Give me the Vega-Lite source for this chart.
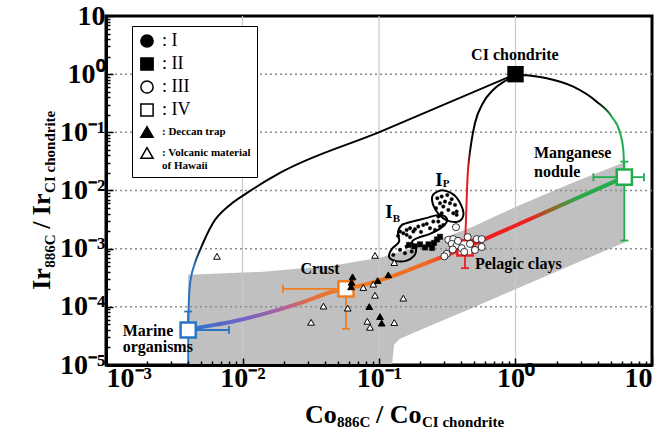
{
 "$schema": "https://vega.github.io/schema/vega-lite/v6.json",
 "width": 546, "height": 349,
 "autosize": {"type": "none"},
 "padding": {"left": 106, "top": 16, "right": 15, "bottom": 72},
 "background": "white",
 "config": {"view": {"stroke": "black", "strokeWidth": 3}, "font": "Liberation Serif"},
 "datasets": {
  "band": [
   {"x": 0.004, "y": 0.000355, "y2": 0.00001},
   {"x": 0.0134, "y": 0.000399, "y2": 0.00001},
   {"x": 0.0438, "y": 0.000506, "y2": 0.00001},
   {"x": 0.1016, "y": 0.000695, "y2": 0.00001},
   {"x": 0.1245, "y": 0.0008, "y2": 0.00001},
   {"x": 0.129, "y": 0.00082, "y2": 0.0000222},
   {"x": 0.1426, "y": 0.00088, "y2": 0.0000282},
   {"x": 0.2366, "y": 0.00126, "y2": 0.0000472},
   {"x": 0.464, "y": 0.00227, "y2": 0.000092},
   {"x": 1.08, "y": 0.00566, "y2": 0.000217},
   {"x": 2.51, "y": 0.013, "y2": 0.000508},
   {"x": 6.34, "y": 0.031, "y2": 0.00129}
  ],
  "gridX": [{"x": 0.01}, {"x": 0.1}, {"x": 1}],
  "gridY": [{"y": 0.0001}, {"y": 0.001}, {"y": 0.01}, {"y": 0.1}, {"y": 1}],
  "curveMarine": [
   {"o": 1, "x": 0.004, "y": 0.00004},
   {"o": 2, "x": 0.00402, "y": 0.000079},
   {"o": 3, "x": 0.00412, "y": 0.000239},
   {"o": 4, "x": 0.00449, "y": 0.00057},
   {"o": 5, "x": 0.00489, "y": 0.00095},
   {"o": 6, "x": 0.00608, "y": 0.00277},
   {"o": 7, "x": 0.00809, "y": 0.00566},
   {"o": 8, "x": 0.0108, "y": 0.0091},
   {"o": 9, "x": 0.0188, "y": 0.02},
   {"o": 10, "x": 0.1016, "y": 0.1016},
   {"o": 11, "x": 1, "y": 1}
  ],
  "curvePelagic": [
   {"o": 1, "x": 0.4266, "y": 0.00103},
   {"o": 2, "x": 0.4337, "y": 0.00313},
   {"o": 3, "x": 0.4411, "y": 0.01023},
   {"o": 4, "x": 0.4487, "y": 0.0226},
   {"o": 5, "x": 0.4563, "y": 0.0336},
   {"o": 6, "x": 0.4776, "y": 0.074},
   {"o": 7, "x": 0.505, "y": 0.145},
   {"o": 8, "x": 0.5779, "y": 0.32},
   {"o": 9, "x": 0.684, "y": 0.535},
   {"o": 10, "x": 0.862, "y": 0.795},
   {"o": 11, "x": 1, "y": 1}
  ],
  "curveMn": [
   {"o": 1, "x": 1, "y": 1},
   {"o": 2, "x": 1.14, "y": 0.969},
   {"o": 3, "x": 1.693, "y": 0.85},
   {"o": 4, "x": 2.651, "y": 0.61},
   {"o": 5, "x": 3.934, "y": 0.337},
   {"o": 6, "x": 5.07, "y": 0.186},
   {"o": 7, "x": 5.83, "y": 0.0977},
   {"o": 8, "x": 6.163, "y": 0.0499},
   {"o": 9, "x": 6.25, "y": 0.0226},
   {"o": 10, "x": 6.27, "y": 0.01694}
  ],
  "mixA": [
   {"o": 1, "x": 0.004, "y": 0.00004},
   {"o": 2, "x": 0.004618, "y": 0.0000431},
   {"o": 3, "x": 0.00852, "y": 0.0000559},
   {"o": 4, "x": 0.01504, "y": 0.0000779},
   {"o": 5, "x": 0.02637, "y": 0.0001158},
   {"o": 6, "x": 0.04627, "y": 0.0001832},
   {"o": 7, "x": 0.0573, "y": 0.000204}
  ],
  "mixB": [
   {"o": 1, "x": 0.0573, "y": 0.000204},
   {"o": 2, "x": 0.0859, "y": 0.0002554},
   {"o": 3, "x": 0.1273, "y": 0.000341},
   {"o": 4, "x": 0.2364, "y": 0.0006},
   {"o": 5, "x": 0.4266, "y": 0.00103}
  ],
  "mixC": [
   {"o": 1, "x": 0.4266, "y": 0.00103},
   {"o": 2, "x": 6.27, "y": 0.01694}
  ],
  "blobs": [
   {"b": "IB", "o": 1, "x": 0.1184, "y": 0.000723},
   {"b": "IB", "o": 2, "x": 0.1245, "y": 0.000992},
   {"b": "IB", "o": 3, "x": 0.1401, "y": 0.001308},
   {"b": "IB", "o": 4, "x": 0.1378, "y": 0.001943},
   {"b": "IB", "o": 5, "x": 0.1475, "y": 0.00256},
   {"b": "IB", "o": 6, "x": 0.1775, "y": 0.002944},
   {"b": "IB", "o": 7, "x": 0.2247, "y": 0.00338},
   {"b": "IB", "o": 8, "x": 0.2616, "y": 0.003735},
   {"b": "IB", "o": 9, "x": 0.2994, "y": 0.00366},
   {"b": "IB", "o": 10, "x": 0.3149, "y": 0.003},
   {"b": "IB", "o": 11, "x": 0.2846, "y": 0.002277},
   {"b": "IB", "o": 12, "x": 0.2364, "y": 0.001796},
   {"b": "IB", "o": 13, "x": 0.1931, "y": 0.001533},
   {"b": "IB", "o": 14, "x": 0.1745, "y": 0.001308},
   {"b": "IB", "o": 15, "x": 0.1867, "y": 0.000992},
   {"b": "IB", "o": 16, "x": 0.1805, "y": 0.000752},
   {"b": "IB", "o": 17, "x": 0.1577, "y": 0.000617},
   {"b": "IB", "o": 18, "x": 0.131, "y": 0.000617},
   {"b": "IP", "o": 1, "x": 0.2486, "y": 0.0084},
   {"b": "IP", "o": 2, "x": 0.2705, "y": 0.00965},
   {"b": "IP", "o": 3, "x": 0.2969, "y": 0.01004},
   {"b": "IP", "o": 4, "x": 0.3312, "y": 0.00928},
   {"b": "IP", "o": 5, "x": 0.3665, "y": 0.00776},
   {"b": "IP", "o": 6, "x": 0.3989, "y": 0.00566},
   {"b": "IP", "o": 7, "x": 0.4159, "y": 0.00412},
   {"b": "IP", "o": 8, "x": 0.4056, "y": 0.00325},
   {"b": "IP", "o": 9, "x": 0.3726, "y": 0.002887},
   {"b": "IP", "o": 10, "x": 0.3312, "y": 0.002944},
   {"b": "IP", "o": 11, "x": 0.2994, "y": 0.00325},
   {"b": "IP", "o": 12, "x": 0.2729, "y": 0.00396},
   {"b": "IP", "o": 13, "x": 0.2529, "y": 0.00523},
   {"b": "IP", "o": 14, "x": 0.2445, "y": 0.0069}
  ],
  "pts": [
   {"type": "I", "x": 0.2674, "y": 0.007375},
   {"type": "I", "x": 0.2879, "y": 0.007855},
   {"type": "I", "x": 0.3165, "y": 0.0084},
   {"type": "I", "x": 0.3409, "y": 0.00709},
   {"type": "I", "x": 0.3603, "y": 0.00566},
   {"type": "I", "x": 0.3707, "y": 0.00434},
   {"type": "I", "x": 0.3502, "y": 0.00407},
   {"type": "I", "x": 0.3219, "y": 0.00464},
   {"type": "I", "x": 0.2959, "y": 0.00529},
   {"type": "I", "x": 0.2798, "y": 0.00605},
   {"type": "I", "x": 0.2879, "y": 0.00407},
   {"type": "I", "x": 0.2719, "y": 0.00356},
   {"type": "I", "x": 0.3044, "y": 0.00645},
   {"type": "I", "x": 0.3312, "y": 0.00605},
   {"type": "I", "x": 0.3707, "y": 0.00381},
   {"type": "I", "x": 0.2616, "y": 0.00496},
   {"type": "I", "x": 0.1425, "y": 0.001966},
   {"type": "I", "x": 0.1507, "y": 0.001846},
   {"type": "I", "x": 0.1595, "y": 0.0021},
   {"type": "I", "x": 0.1688, "y": 0.00225},
   {"type": "I", "x": 0.1784, "y": 0.001966},
   {"type": "I", "x": 0.194, "y": 0.0024},
   {"type": "I", "x": 0.2111, "y": 0.00256},
   {"type": "I", "x": 0.2364, "y": 0.00225},
   {"type": "I", "x": 0.2499, "y": 0.00292},
   {"type": "I", "x": 0.2719, "y": 0.00292},
   {"type": "I", "x": 0.2959, "y": 0.00256},
   {"type": "I", "x": 0.1595, "y": 0.001727},
   {"type": "I", "x": 0.1688, "y": 0.001576},
   {"type": "I", "x": 0.1836, "y": 0.00216},
   {"type": "I", "x": 0.2236, "y": 0.00267},
   {"type": "I", "x": 0.1425, "y": 0.000954},
   {"type": "I", "x": 0.155, "y": 0.000837},
   {"type": "I", "x": 0.1737, "y": 0.000892},
   {"type": "I", "x": 0.1273, "y": 0.000782},
   {"type": "I", "x": 0.1595, "y": 0.001087},
   {"type": "I", "x": 0.2572, "y": 0.0021},
   {"type": "I", "x": 0.2798, "y": 0.0024},
   {"type": "I", "x": 0.2031, "y": 0.001943},
   {"type": "I", "x": 0.1378, "y": 0.00166},
   {"type": "II", "x": 0.1659, "y": 0.00116},
   {"type": "II", "x": 0.182, "y": 0.001095},
   {"type": "II", "x": 0.1997, "y": 0.001186},
   {"type": "II", "x": 0.2173, "y": 0.00105},
   {"type": "II", "x": 0.2305, "y": 0.001186},
   {"type": "II", "x": 0.2445, "y": 0.00103},
   {"type": "II", "x": 0.2529, "y": 0.00126},
   {"type": "II", "x": 0.266, "y": 0.001445},
   {"type": "II", "x": 0.28, "y": 0.0016},
   {"type": "III", "x": 0.3665, "y": 0.00234},
   {"type": "III", "x": 0.322, "y": 0.00142},
   {"type": "III", "x": 0.35, "y": 0.00146},
   {"type": "III", "x": 0.341, "y": 0.00121},
   {"type": "III", "x": 0.371, "y": 0.00114},
   {"type": "III", "x": 0.4035, "y": 0.00102},
   {"type": "III", "x": 0.4215, "y": 0.00088},
   {"type": "III", "x": 0.4464, "y": 0.00158},
   {"type": "III", "x": 0.5196, "y": 0.00146},
   {"type": "III", "x": 0.5653, "y": 0.00146},
   {"type": "III", "x": 0.5653, "y": 0.00107},
   {"type": "III", "x": 0.505, "y": 0.00095},
   {"type": "III", "x": 0.3133, "y": 0.000815},
   {"type": "III", "x": 0.301, "y": 0.000738},
   {"type": "III", "x": 0.3467, "y": 0.00097},
   {"type": "III", "x": 0.464, "y": 0.00121},
   {"type": "III", "x": 0.379, "y": 0.00136},
   {"type": "Deccan trap", "x": 0.064, "y": 0.000328},
   {"type": "Deccan trap", "x": 0.0629, "y": 0.000264},
   {"type": "Deccan trap", "x": 0.0624, "y": 0.000221},
   {"type": "Deccan trap", "x": 0.0978, "y": 0.000283},
   {"type": "Deccan trap", "x": 0.117, "y": 0.000355},
   {"type": "Deccan trap", "x": 0.0849, "y": 0.000101},
   {"type": "Deccan trap", "x": 0.1017, "y": 0.000068},
   {"type": "Deccan trap", "x": 0.1046, "y": 0.0000525},
   {"type": "Hawaii", "x": 0.0065, "y": 0.000738},
   {"type": "Hawaii", "x": 0.0935, "y": 0.000767},
   {"type": "Hawaii", "x": 0.1294, "y": 0.000577},
   {"type": "Hawaii", "x": 0.0767, "y": 0.000215},
   {"type": "Hawaii", "x": 0.0908, "y": 0.000245},
   {"type": "Hawaii", "x": 0.0935, "y": 0.000158},
   {"type": "Hawaii", "x": 0.1507, "y": 0.000141},
   {"type": "Hawaii", "x": 0.0392, "y": 0.000103},
   {"type": "Hawaii", "x": 0.059, "y": 0.000095},
   {"type": "Hawaii", "x": 0.0318, "y": 0.0000542},
   {"type": "Hawaii", "x": 0.0821, "y": 0.0000564},
   {"type": "Hawaii", "x": 0.0859, "y": 0.0000445},
   {"type": "Hawaii", "x": 0.1294, "y": 0.0000537}
  ],
  "errs": [
   {"member": "Marine", "x": 0.004, "x2": 0.00796, "y": 0.00004, "y2": 0.00004},
   {"member": "Marine", "x": 0.004, "x2": 0.004, "y": 0.000083, "y2": 0.00001},
   {"member": "Crust", "x": 0.0198, "x2": 0.0573, "y": 0.000204, "y2": 0.000204},
   {"member": "Crust", "x": 0.0573, "x2": 0.0573, "y": 0.000204, "y2": 0.0000419},
   {"member": "Pelagic", "x": 0.4266, "x2": 0.4266, "y": 0.00103, "y2": 0.000462},
   {"member": "Mn", "x": 3.72, "x2": 8.73, "y": 0.01694, "y2": 0.01694},
   {"member": "Mn", "x": 6.27, "x2": 6.27, "y": 0.0314, "y2": 0.00138}
  ],
  "capsV": [
   {"member": "Marine", "x": 0.00796, "y": 0.00004},
   {"member": "Crust", "x": 0.0198, "y": 0.000204},
   {"member": "Mn", "x": 3.72, "y": 0.01694},
   {"member": "Mn", "x": 8.73, "y": 0.01694}
  ],
  "capsH": [
   {"member": "Marine", "x": 0.004, "y": 0.000083},
   {"member": "Crust", "x": 0.0573, "y": 0.0000419},
   {"member": "Pelagic", "x": 0.4266, "y": 0.000462},
   {"member": "Mn", "x": 6.27, "y": 0.0314},
   {"member": "Mn", "x": 6.27, "y": 0.00138}
  ],
  "ends": [
   {"member": "Marine", "x": 0.004, "y": 0.00004},
   {"member": "Crust", "x": 0.0573, "y": 0.000204},
   {"member": "Pelagic", "x": 0.4266, "y": 0.00103},
   {"member": "Mn", "x": 6.27, "y": 0.01694}
  ],
  "ci": [{"x": 1, "y": 1}],
  "labelsLeft": [
   {"t": "Pelagic clays", "x": 0.505, "y": 0.000548},
   {"t": "Manganese", "x": 1.366, "y": 0.0443},
   {"t": "nodule", "x": 1.366, "y": 0.0209},
   {"t": "Marine", "x": 0.001325, "y": 0.0000387},
   {"t": "organisms", "x": 0.001325, "y": 0.00002}
  ],
  "labelsCenter": [
   {"t": "Crust", "x": 0.03697, "y": 0.000445},
   {"t": "CI chondrite", "x": 0.99, "y": 2.14}
  ],
  "labelsI": [
   {"t": "I", "x": 0.1184, "y": 0.00429},
   {"t": "I", "x": 0.2752, "y": 0.01491}
  ],
  "labelsSub": [
   {"t": "B", "x": 0.1343, "y": 0.00319},
   {"t": "P", "x": 0.3097, "y": 0.01298}
  ],
  "one": [{}]
 },
 "layer": [
  {
   "data": {"name": "band"},
   "mark": {"type": "area", "color": "#c0c0c0", "opacity": 1},
   "encoding": {
    "x": {"field": "x", "type": "quantitative", "scale": {"type": "log", "domain": [0.001, 10], "nice": false}, "title": null,
     "axis": {
      "values": [0.001,0.002,0.003,0.004,0.005,0.006,0.007,0.008,0.009,0.01,0.02,0.03,0.04,0.05,0.06,0.07,0.08,0.09,0.1,0.2,0.3,0.4,0.5,0.6,0.7,0.8,0.9,1,2,3,4,5,6,7,8,9,10],
      "labelExpr": "datum.value < 0.0015 ? '10⁻³' : abs(datum.value-0.01) < 1e-9 ? '10⁻²' : abs(datum.value-0.1) < 1e-9 ? '10⁻¹' : datum.value == 1 ? '10⁰' : datum.value == 10 ? '10' : ''",
      "labelFlush": true, "labelOverlap": false,
      "labelFont": "Liberation Serif", "labelFontSize": 28, "labelFontWeight": "bold", "labelColor": "black",
      "labelPadding": 6, "labelBaseline": "top",
      "tickSize": {"condition": {"test": "abs(log(datum.value)/LN10 - round(log(datum.value)/LN10)) < 0.001", "value": -7}, "value": -4},
      "tickColor": "black", "tickWidth": 1.5,
      "domainColor": "black", "domainWidth": 3, "grid": false, "zindex": 1, "title": null
     }},
    "y": {"field": "y", "type": "quantitative", "scale": {"type": "log", "domain": [0.00001, 10], "nice": false}, "title": null,
     "axis": {
      "values": [0.00001,0.00002,0.00003,0.00004,0.00005,0.00006,0.00007,0.00008,0.00009,0.0001,0.0002,0.0003,0.0004,0.0005,0.0006,0.0007,0.0008,0.0009,0.001,0.002,0.003,0.004,0.005,0.006,0.007,0.008,0.009,0.01,0.02,0.03,0.04,0.05,0.06,0.07,0.08,0.09,0.1,0.2,0.3,0.4,0.5,0.6,0.7,0.8,0.9,1,2,3,4,5,6,7,8,9,10],
      "labelExpr": "datum.value > 9.5 ? '10' : (datum.value > 0.95 && datum.value < 1.05) ? '10⁰' : abs(datum.value-0.1) < 1e-9 ? '10⁻¹' : abs(datum.value-0.01) < 1e-10 ? '10⁻²' : abs(datum.value-0.001) < 1e-11 ? '10⁻³' : abs(datum.value-0.0001) < 1e-12 ? '10⁻⁴' : abs(datum.value-0.00001) < 1e-13 ? '10⁻⁵' : ''",
      "labelOverlap": false,
      "labelFont": "Liberation Serif", "labelFontSize": 28, "labelFontWeight": "bold", "labelColor": "black",
      "labelPadding": 8,
      "tickSize": {"condition": {"test": "abs(log(datum.value)/LN10 - round(log(datum.value)/LN10)) < 0.001", "value": -7}, "value": -4},
      "tickColor": "black", "tickWidth": 1.5,
      "domainColor": "black", "domainWidth": 3, "grid": false, "zindex": 1, "title": null
     }},
    "y2": {"field": "y2"}
   }
  },
  {
   "data": {"name": "gridY"},
   "mark": {"type": "rule", "color": "#8c8c8c", "strokeWidth": 1.5, "strokeDash": [2, 3]},
   "encoding": {"y": {"field": "y", "type": "quantitative", "scale": {"type": "log", "domain": [0.00001, 10], "nice": false}, "title": null}}
  },
  {
   "data": {"name": "gridX"},
   "mark": {"type": "rule", "color": "#c8c8c8", "strokeWidth": 1.2},
   "encoding": {"x": {"field": "x", "type": "quantitative", "scale": {"type": "log", "domain": [0.001, 10], "nice": false}, "title": null}}
  },
  {
   "data": {"name": "curveMarine"},
   "mark": {"type": "line", "interpolate": "monotone", "strokeWidth": 2, "stroke": {"gradient": "linear", "x1": 0, "y1": 0, "x2": 0, "y2": 1, "stops": [{"offset": 0, "color": "black"}, {"offset": 0.66, "color": "black"}, {"offset": 0.75, "color": "#2a74c4"}, {"offset": 1, "color": "#2a74c4"}]}},
   "encoding": {
    "x": {"field": "x", "type": "quantitative", "scale": {"type": "log", "domain": [0.001, 10], "nice": false}, "title": null},
    "y": {"field": "y", "type": "quantitative", "scale": {"type": "log", "domain": [0.00001, 10], "nice": false}, "title": null},
    "order": {"field": "o", "type": "quantitative"}
   }
  },
  {
   "data": {"name": "curvePelagic"},
   "mark": {"type": "line", "interpolate": "monotone", "strokeWidth": 2, "stroke": {"gradient": "linear", "x1": 0, "y1": 0, "x2": 0, "y2": 1, "stops": [{"offset": 0, "color": "black"}, {"offset": 0.42, "color": "black"}, {"offset": 0.54, "color": "#e01b1b"}, {"offset": 1, "color": "#ee1d23"}]}},
   "encoding": {
    "x": {"field": "x", "type": "quantitative", "scale": {"type": "log", "domain": [0.001, 10], "nice": false}, "title": null},
    "y": {"field": "y", "type": "quantitative", "scale": {"type": "log", "domain": [0.00001, 10], "nice": false}, "title": null},
    "order": {"field": "o", "type": "quantitative"}
   }
  },
  {
   "data": {"name": "curveMn"},
   "mark": {"type": "line", "interpolate": "monotone", "strokeWidth": 2, "stroke": {"gradient": "linear", "x1": 0, "y1": 0, "x2": 0, "y2": 1, "stops": [{"offset": 0, "color": "black"}, {"offset": 0.28, "color": "black"}, {"offset": 0.42, "color": "#1fae4b"}, {"offset": 1, "color": "#1fae4b"}]}},
   "encoding": {
    "x": {"field": "x", "type": "quantitative", "scale": {"type": "log", "domain": [0.001, 10], "nice": false}, "title": null},
    "y": {"field": "y", "type": "quantitative", "scale": {"type": "log", "domain": [0.00001, 10], "nice": false}, "title": null},
    "order": {"field": "o", "type": "quantitative"}
   }
  },
  {
   "data": {"name": "mixA"},
   "mark": {"type": "line", "interpolate": "monotone", "strokeWidth": 4, "stroke": {"gradient": "linear", "x1": 0, "y1": 0, "x2": 1, "y2": 0, "stops": [{"offset": 0, "color": "#2a74c4"}, {"offset": 0.35, "color": "#6f63c8"}, {"offset": 0.6, "color": "#b0609a"}, {"offset": 0.8, "color": "#e8703a"}, {"offset": 1, "color": "#ef7d22"}]}},
   "encoding": {
    "x": {"field": "x", "type": "quantitative", "scale": {"type": "log", "domain": [0.001, 10], "nice": false}, "title": null},
    "y": {"field": "y", "type": "quantitative", "scale": {"type": "log", "domain": [0.00001, 10], "nice": false}, "title": null},
    "order": {"field": "o", "type": "quantitative"}
   }
  },
  {
   "data": {"name": "mixB"},
   "mark": {"type": "line", "interpolate": "monotone", "strokeWidth": 4, "stroke": {"gradient": "linear", "x1": 0, "y1": 0, "x2": 1, "y2": 0, "stops": [{"offset": 0, "color": "#ef7d22"}, {"offset": 0.65, "color": "#ef6a22"}, {"offset": 1, "color": "#ee1d23"}]}},
   "encoding": {
    "x": {"field": "x", "type": "quantitative", "scale": {"type": "log", "domain": [0.001, 10], "nice": false}, "title": null},
    "y": {"field": "y", "type": "quantitative", "scale": {"type": "log", "domain": [0.00001, 10], "nice": false}, "title": null},
    "order": {"field": "o", "type": "quantitative"}
   }
  },
  {
   "data": {"name": "mixC"},
   "mark": {"type": "line", "strokeWidth": 4, "stroke": {"gradient": "linear", "x1": 0, "y1": 0, "x2": 1, "y2": 0, "stops": [{"offset": 0, "color": "#ee1d23"}, {"offset": 0.4, "color": "#ee2020"}, {"offset": 0.55, "color": "#8a6a2a"}, {"offset": 0.7, "color": "#2aa84a"}, {"offset": 1, "color": "#1fae4b"}]}},
   "encoding": {
    "x": {"field": "x", "type": "quantitative", "scale": {"type": "log", "domain": [0.001, 10], "nice": false}, "title": null},
    "y": {"field": "y", "type": "quantitative", "scale": {"type": "log", "domain": [0.00001, 10], "nice": false}, "title": null},
    "order": {"field": "o", "type": "quantitative"}
   }
  },
  {
   "data": {"name": "blobs"},
   "mark": {"type": "line", "interpolate": "cardinal-closed", "stroke": "black", "strokeWidth": 2},
   "encoding": {
    "x": {"field": "x", "type": "quantitative", "scale": {"type": "log", "domain": [0.001, 10], "nice": false}, "title": null},
    "y": {"field": "y", "type": "quantitative", "scale": {"type": "log", "domain": [0.00001, 10], "nice": false}, "title": null},
    "order": {"field": "o", "type": "quantitative"},
    "detail": {"field": "b", "type": "nominal"}
   }
  },
  {
   "data": {"name": "errs"},
   "mark": {"type": "rule", "strokeWidth": 1.8},
   "encoding": {
    "x": {"field": "x", "type": "quantitative", "scale": {"type": "log", "domain": [0.001, 10], "nice": false}, "title": null},
    "x2": {"field": "x2"},
    "y": {"field": "y", "type": "quantitative", "scale": {"type": "log", "domain": [0.00001, 10], "nice": false}, "title": null},
    "y2": {"field": "y2"},
    "color": {"field": "member", "type": "nominal", "scale": {"domain": ["Marine", "Crust", "Pelagic", "Mn"], "range": ["#2a74c4", "#ef7d22", "#ee1d23", "#1fae4b"]}, "legend": null}
   }
  },
  {
   "data": {"name": "capsV"},
   "mark": {"type": "tick", "orient": "vertical", "size": 8, "thickness": 1.8, "opacity": 1},
   "encoding": {
    "x": {"field": "x", "type": "quantitative", "scale": {"type": "log", "domain": [0.001, 10], "nice": false}, "title": null},
    "y": {"field": "y", "type": "quantitative", "scale": {"type": "log", "domain": [0.00001, 10], "nice": false}, "title": null},
    "color": {"field": "member", "type": "nominal", "scale": {"domain": ["Marine", "Crust", "Pelagic", "Mn"], "range": ["#2a74c4", "#ef7d22", "#ee1d23", "#1fae4b"]}, "legend": null}
   }
  },
  {
   "data": {"name": "capsH"},
   "mark": {"type": "tick", "orient": "horizontal", "size": 8, "thickness": 1.8, "opacity": 1},
   "encoding": {
    "x": {"field": "x", "type": "quantitative", "scale": {"type": "log", "domain": [0.001, 10], "nice": false}, "title": null},
    "y": {"field": "y", "type": "quantitative", "scale": {"type": "log", "domain": [0.00001, 10], "nice": false}, "title": null},
    "color": {"field": "member", "type": "nominal", "scale": {"domain": ["Marine", "Crust", "Pelagic", "Mn"], "range": ["#2a74c4", "#ef7d22", "#ee1d23", "#1fae4b"]}, "legend": null}
   }
  },
  {
   "data": {"name": "ends"},
   "mark": {"type": "point", "shape": "square", "size": 230, "filled": false, "fill": "white", "strokeWidth": 2.5, "opacity": 1},
   "encoding": {
    "x": {"field": "x", "type": "quantitative", "scale": {"type": "log", "domain": [0.001, 10], "nice": false}, "title": null},
    "y": {"field": "y", "type": "quantitative", "scale": {"type": "log", "domain": [0.00001, 10], "nice": false}, "title": null},
    "color": {"field": "member", "type": "nominal", "scale": {"domain": ["Marine", "Crust", "Pelagic", "Mn"], "range": ["#2a74c4", "#ef7d22", "#ee1d23", "#1fae4b"]}, "legend": null}
   }
  },
  {
   "data": {"name": "ci"},
   "mark": {"type": "point", "shape": "square", "size": 270, "filled": true, "color": "black", "strokeWidth": 1, "opacity": 1},
   "encoding": {
    "x": {"field": "x", "type": "quantitative", "scale": {"type": "log", "domain": [0.001, 10], "nice": false}, "title": null},
    "y": {"field": "y", "type": "quantitative", "scale": {"type": "log", "domain": [0.00001, 10], "nice": false}, "title": null}
   }
  },
  {
   "data": {"name": "pts"},
   "transform": [{"filter": "datum.type == 'Hawaii'"}],
   "mark": {"type": "point", "filled": false, "size": 45, "strokeWidth": 1, "opacity": 1},
   "encoding": {
    "x": {"field": "x", "type": "quantitative", "scale": {"type": "log", "domain": [0.001, 10], "nice": false}, "title": null},
    "y": {"field": "y", "type": "quantitative", "scale": {"type": "log", "domain": [0.00001, 10], "nice": false}, "title": null},
    "shape": {"field": "type", "type": "nominal", "scale": {"domain": ["I", "II", "III", "IV", "Deccan trap", "Hawaii"], "range": ["circle", "square", "circle", "square", "triangle-up", "triangle-up"]},
     "legend": {"orient": "none", "legendX": 26, "legendY": 10, "title": null, "fillColor": "white", "strokeColor": "black", "padding": 6,
      "symbolSize": 150, "symbolStrokeWidth": 1.5, "rowPadding": 3, "labelOffset": 6,
      "labelFont": "Liberation Serif", "labelColor": "black", "labelLimit": 200,
      "labelFontSize": {"expr": "datum.value == 'Deccan trap' || datum.value == 'Hawaii' ? 11 : 18"},
      "labelFontWeight": {"expr": "datum.value == 'Deccan trap' || datum.value == 'Hawaii' ? 'bold' : 'normal'"},
      "labelExpr": "datum.label == 'Hawaii' ? [': Volcanic material', '   of Hawaii'] : ': ' + datum.label"}},
    "fill": {"field": "type", "type": "nominal", "scale": {"domain": ["I", "II", "III", "IV", "Deccan trap", "Hawaii"], "range": ["black", "black", "white", "white", "black", "white"]}},
    "stroke": {"field": "type", "type": "nominal", "scale": {"domain": ["I", "II", "III", "IV", "Deccan trap", "Hawaii"], "range": ["black", "black", "black", "black", "black", "black"]}}
   }
  },
  {
   "data": {"name": "pts"},
   "transform": [{"filter": "datum.type == 'Deccan trap'"}],
   "mark": {"type": "point", "filled": false, "size": 45, "strokeWidth": 1, "opacity": 1},
   "encoding": {
    "x": {"field": "x", "type": "quantitative", "scale": {"type": "log", "domain": [0.001, 10], "nice": false}, "title": null},
    "y": {"field": "y", "type": "quantitative", "scale": {"type": "log", "domain": [0.00001, 10], "nice": false}, "title": null},
    "shape": {"field": "type", "type": "nominal", "scale": {"domain": ["I", "II", "III", "IV", "Deccan trap", "Hawaii"], "range": ["circle", "square", "circle", "square", "triangle-up", "triangle-up"]}},
    "fill": {"field": "type", "type": "nominal", "scale": {"domain": ["I", "II", "III", "IV", "Deccan trap", "Hawaii"], "range": ["black", "black", "white", "white", "black", "white"]}},
    "stroke": {"field": "type", "type": "nominal", "scale": {"domain": ["I", "II", "III", "IV", "Deccan trap", "Hawaii"], "range": ["black", "black", "black", "black", "black", "black"]}}
   }
  },
  {
   "data": {"name": "pts"},
   "transform": [{"filter": "datum.type == 'I'"}],
   "mark": {"type": "point", "filled": false, "size": 12, "strokeWidth": 0.5, "opacity": 1},
   "encoding": {
    "x": {"field": "x", "type": "quantitative", "scale": {"type": "log", "domain": [0.001, 10], "nice": false}, "title": null},
    "y": {"field": "y", "type": "quantitative", "scale": {"type": "log", "domain": [0.00001, 10], "nice": false}, "title": null},
    "shape": {"field": "type", "type": "nominal", "scale": {"domain": ["I", "II", "III", "IV", "Deccan trap", "Hawaii"], "range": ["circle", "square", "circle", "square", "triangle-up", "triangle-up"]}},
    "fill": {"field": "type", "type": "nominal", "scale": {"domain": ["I", "II", "III", "IV", "Deccan trap", "Hawaii"], "range": ["black", "black", "white", "white", "black", "white"]}},
    "stroke": {"field": "type", "type": "nominal", "scale": {"domain": ["I", "II", "III", "IV", "Deccan trap", "Hawaii"], "range": ["black", "black", "black", "black", "black", "black"]}}
   }
  },
  {
   "data": {"name": "pts"},
   "transform": [{"filter": "datum.type == 'II'"}],
   "mark": {"type": "point", "filled": false, "size": 28, "strokeWidth": 0.5, "opacity": 1},
   "encoding": {
    "x": {"field": "x", "type": "quantitative", "scale": {"type": "log", "domain": [0.001, 10], "nice": false}, "title": null},
    "y": {"field": "y", "type": "quantitative", "scale": {"type": "log", "domain": [0.00001, 10], "nice": false}, "title": null},
    "shape": {"field": "type", "type": "nominal", "scale": {"domain": ["I", "II", "III", "IV", "Deccan trap", "Hawaii"], "range": ["circle", "square", "circle", "square", "triangle-up", "triangle-up"]}},
    "fill": {"field": "type", "type": "nominal", "scale": {"domain": ["I", "II", "III", "IV", "Deccan trap", "Hawaii"], "range": ["black", "black", "white", "white", "black", "white"]}},
    "stroke": {"field": "type", "type": "nominal", "scale": {"domain": ["I", "II", "III", "IV", "Deccan trap", "Hawaii"], "range": ["black", "black", "black", "black", "black", "black"]}}
   }
  },
  {
   "data": {"name": "pts"},
   "transform": [{"filter": "datum.type == 'III'"}],
   "mark": {"type": "point", "filled": false, "size": 50, "strokeWidth": 0.8, "opacity": 1},
   "encoding": {
    "x": {"field": "x", "type": "quantitative", "scale": {"type": "log", "domain": [0.001, 10], "nice": false}, "title": null},
    "y": {"field": "y", "type": "quantitative", "scale": {"type": "log", "domain": [0.00001, 10], "nice": false}, "title": null},
    "shape": {"field": "type", "type": "nominal", "scale": {"domain": ["I", "II", "III", "IV", "Deccan trap", "Hawaii"], "range": ["circle", "square", "circle", "square", "triangle-up", "triangle-up"]}},
    "fill": {"field": "type", "type": "nominal", "scale": {"domain": ["I", "II", "III", "IV", "Deccan trap", "Hawaii"], "range": ["black", "black", "white", "white", "black", "white"]}},
    "stroke": {"field": "type", "type": "nominal", "scale": {"domain": ["I", "II", "III", "IV", "Deccan trap", "Hawaii"], "range": ["black", "black", "black", "black", "black", "black"]}}
   }
  },
  {
   "data": {"name": "labelsLeft"},
   "mark": {"type": "text", "align": "left", "baseline": "middle", "font": "Liberation Serif", "fontWeight": "bold", "fontSize": 16, "color": "black"},
   "encoding": {
    "x": {"field": "x", "type": "quantitative", "scale": {"type": "log", "domain": [0.001, 10], "nice": false}, "title": null},
    "y": {"field": "y", "type": "quantitative", "scale": {"type": "log", "domain": [0.00001, 10], "nice": false}, "title": null},
    "text": {"field": "t"}
   }
  },
  {
   "data": {"name": "labelsCenter"},
   "mark": {"type": "text", "align": "center", "baseline": "middle", "font": "Liberation Serif", "fontWeight": "bold", "fontSize": 16, "color": "black"},
   "encoding": {
    "x": {"field": "x", "type": "quantitative", "scale": {"type": "log", "domain": [0.001, 10], "nice": false}, "title": null},
    "y": {"field": "y", "type": "quantitative", "scale": {"type": "log", "domain": [0.00001, 10], "nice": false}, "title": null},
    "text": {"field": "t"}
   }
  },
  {
   "data": {"name": "labelsI"},
   "mark": {"type": "text", "align": "center", "baseline": "middle", "font": "Liberation Serif", "fontWeight": "bold", "fontSize": 19, "color": "black"},
   "encoding": {
    "x": {"field": "x", "type": "quantitative", "scale": {"type": "log", "domain": [0.001, 10], "nice": false}, "title": null},
    "y": {"field": "y", "type": "quantitative", "scale": {"type": "log", "domain": [0.00001, 10], "nice": false}, "title": null},
    "text": {"field": "t"}
   }
  },
  {
   "data": {"name": "labelsSub"},
   "mark": {"type": "text", "align": "center", "baseline": "middle", "font": "Liberation Serif", "fontWeight": "bold", "fontSize": 11, "color": "black"},
   "encoding": {
    "x": {"field": "x", "type": "quantitative", "scale": {"type": "log", "domain": [0.001, 10], "nice": false}, "title": null},
    "y": {"field": "y", "type": "quantitative", "scale": {"type": "log", "domain": [0.00001, 10], "nice": false}, "title": null},
    "text": {"field": "t"}
   }
  },
  {
   "data": {"name": "one"},
   "mark": {"type": "text", "text": "Co", "align": "left", "baseline": "alphabetic", "font": "Liberation Serif", "fontWeight": "bold", "fontSize": 26, "color": "black"},
   "encoding": {"x": {"datum": 0.0287, "type": "quantitative"}, "y": {"datum": 0.000001016, "type": "quantitative"}}
  },
  {
   "data": {"name": "one"},
   "mark": {"type": "text", "text": "886C", "align": "left", "baseline": "alphabetic", "font": "Liberation Serif", "fontWeight": "bold", "fontSize": 15, "color": "black"},
   "encoding": {"x": {"datum": 0.04924, "type": "quantitative"}, "y": {"datum": 0.000000867, "type": "quantitative"}}
  },
  {
   "data": {"name": "one"},
   "mark": {"type": "text", "text": "/ Co", "align": "left", "baseline": "alphabetic", "font": "Liberation Serif", "fontWeight": "bold", "fontSize": 26, "color": "black"},
   "encoding": {"x": {"datum": 0.09506, "type": "quantitative"}, "y": {"datum": 0.000001016, "type": "quantitative"}}
  },
  {
   "data": {"name": "one"},
   "mark": {"type": "text", "text": "CI chondrite", "align": "left", "baseline": "alphabetic", "font": "Liberation Serif", "fontWeight": "bold", "fontSize": 15, "color": "black"},
   "encoding": {"x": {"datum": 0.2065, "type": "quantitative"}, "y": {"datum": 0.000000867, "type": "quantitative"}}
  },
  {
   "data": {"name": "one"},
   "mark": {"type": "text", "text": "Ir", "angle": 270, "align": "left", "baseline": "alphabetic", "font": "Liberation Serif", "fontWeight": "bold", "fontSize": 26, "color": "black"},
   "encoding": {"x": {"datum": 0.0003888, "type": "quantitative"}, "y": {"datum": 0.000196, "type": "quantitative"}}
  },
  {
   "data": {"name": "one"},
   "mark": {"type": "text", "text": "886C", "angle": 270, "align": "left", "baseline": "alphabetic", "font": "Liberation Serif", "fontWeight": "bold", "fontSize": 15, "color": "black"},
   "encoding": {"x": {"datum": 0.000423, "type": "quantitative"}, "y": {"datum": 0.000468, "type": "quantitative"}}
  },
  {
   "data": {"name": "one"},
   "mark": {"type": "text", "text": "/ Ir", "angle": 270, "align": "left", "baseline": "alphabetic", "font": "Liberation Serif", "fontWeight": "bold", "fontSize": 26, "color": "black"},
   "encoding": {"x": {"datum": 0.0003888, "type": "quantitative"}, "y": {"datum": 0.00219, "type": "quantitative"}}
  },
  {
   "data": {"name": "one"},
   "mark": {"type": "text", "text": "CI chondrite", "angle": 270, "align": "left", "baseline": "alphabetic", "font": "Liberation Serif", "fontWeight": "bold", "fontSize": 15, "color": "black"},
   "encoding": {"x": {"datum": 0.000423, "type": "quantitative"}, "y": {"datum": 0.0091, "type": "quantitative"}}
  }
 ]
}
